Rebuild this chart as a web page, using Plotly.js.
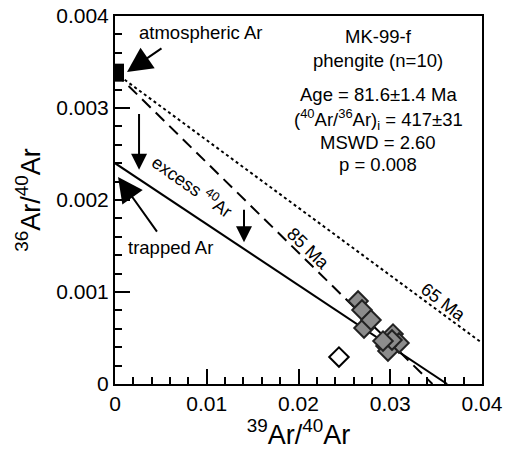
<!DOCTYPE html>
<html>
<head>
<meta charset="utf-8">
<script src="https://cdn.plot.ly/plotly-3.0.1.min.js"></script>
<style>html,body{margin:0;padding:0;background:#fff}#chart{width:505px;height:450px}</style>
</head>
<body>
<div id="chart"></div>
<script>
// Data
const dataX = [0.02649, 0.02692, 0.02714, 0.02790, 0.03030, 0.03095, 0.02954, 0.02975, 0.03019, 0.02921];
const dataY = [0.000902, 0.000804, 0.000609, 0.000696, 0.000543, 0.000446, 0.000413, 0.000359, 0.000478, 0.000467];
const excludedX = [0.02441];
const excludedY = [0.000293];
const atmX = [0];
const atmY = [0.003384];
// Reference lines
const isochronX = [0, 0.0362];
const isochronY = [0.0024, 0];
const line85X = [0, 0.0346];
const line85Y = [0.003384, 0];
const line65X = [0, 0.04];
const line65Y = [0.003384, 0.000446];
const xTicks = [0, 0.01, 0.02, 0.03, 0.04];
const xTickText = ['0', '0.01', '0.02', '0.03', '0.04'];
const yTicks = [0, 0.001, 0.002, 0.003, 0.004];
const yTickText = ['0', '0.001', '0.002', '0.003', '0.004'];

const FONT = 'Liberation Sans, Arial, sans-serif';

const traces = [
  {x: line65X, y: line65Y, mode: 'lines', line: {color: '#000', width: 2, dash: '3px,3px'}, hoverinfo: 'skip'},
  {x: line85X, y: line85Y, mode: 'lines', line: {color: '#000', width: 2, dash: '12px,7px'}, hoverinfo: 'skip'},
  {x: isochronX, y: isochronY, mode: 'lines', line: {color: '#000', width: 2}, hoverinfo: 'skip'},
  {x: atmX, y: atmY, mode: 'markers', marker: {symbol: 'square', size: 18, color: '#000'}, cliponaxis: true},
  {x: excludedX, y: excludedY, mode: 'markers', marker: {symbol: 'diamond', size: 15, color: '#fff', line: {color: '#000', width: 2}}},
  {x: dataX, y: dataY, mode: 'markers', marker: {symbol: 'diamond', size: 15, color: '#8c8c8c', line: {color: '#222', width: 2}}}
];

const arrowBase = {xref: 'x', yref: 'y', axref: 'x', ayref: 'y', showarrow: true, arrowhead: 2, arrowsize: 1.6, arrowwidth: 2, arrowcolor: '#000', text: ''};

function label(x, y, text, size, extra) {
  return Object.assign({xref: 'paper', yref: 'paper', x: x, y: y, xanchor: 'center', yanchor: 'middle', text: text, showarrow: false, font: {family: FONT, size: size, color: '#000'}}, extra || {});
}

const annotations = [
  Object.assign({}, arrowBase, {x: 0.00131, y: 0.00339, ax: 0.00523, ay: 0.00366, arrowsize: 2.5}),
  Object.assign({}, arrowBase, {x: 0.00033, y: 0.00225, ax: 0.00469, ay: 0.00164, arrowsize: 2.5}),
  Object.assign({}, arrowBase, {x: 0.00262, y: 0.00233, ax: 0.00262, ay: 0.00295}),
  Object.assign({}, arrowBase, {x: 0.01406, y: 0.00154, ax: 0.01406, ay: 0.00191}),
  label(0.060, 0.954, 'atmospheric Ar', 18.5, {xanchor: 'left'}),
  label(0.030, 0.372, 'trapped Ar', 18.5, {xanchor: 'left'}),
  label(0.2125, 0.538, 'excess <sup>40</sup>Ar', 18, {textangle: 35}),
  label(0.528, 0.368, '85 Ma', 18, {textangle: 44}),
  label(0.894, 0.223, '65 Ma', 18, {textangle: 37}),
  label(0.717, 0.943, 'MK-99-f', 18.5),
  label(0.717, 0.880, 'phengite (n=10)', 18.5),
  label(0.717, 0.786, 'Age = 81.6±1.4 Ma', 18.5),
  label(0.717, 0.719, '(<sup>40</sup>Ar/<sup>36</sup>Ar)<sub>i</sub> = 417±31', 18.5),
  label(0.717, 0.655, 'MSWD = 2.60', 18.5),
  label(0.717, 0.597, 'p = 0.008', 18.5)
];

const layout = {
  width: 505, height: 450,
  margin: {l: 115, r: 23, t: 16, b: 66},
  paper_bgcolor: '#fff', plot_bgcolor: '#fff',
  showlegend: false,
  font: {family: FONT, size: 21, color: '#000'},
  xaxis: {
    range: [0, 0.04], tickvals: xTicks, ticktext: xTickText,
    ticks: 'inside', ticklen: 15, tickwidth: 2, tickcolor: '#000',
    minor: {dtick: 0.002, ticks: 'inside', ticklen: 7, tickwidth: 2, tickcolor: '#000'},
    showline: true, linewidth: 2, linecolor: '#000', mirror: true,
    showgrid: false, zeroline: false,
    tickfont: {family: FONT, size: 21, color: '#000'},
    title: {text: '<sup>39</sup>Ar/<sup>40</sup>Ar', font: {family: FONT, size: 27, color: '#000'}, standoff: 2}
  },
  yaxis: {
    range: [0, 0.004], tickvals: yTicks, ticktext: yTickText,
    ticks: 'inside', ticklen: 15, tickwidth: 2, tickcolor: '#000',
    minor: {dtick: 0.0002, ticks: 'inside', ticklen: 7, tickwidth: 2, tickcolor: '#000'},
    showline: true, linewidth: 2, linecolor: '#000', mirror: true,
    showgrid: false, zeroline: false,
    tickfont: {family: FONT, size: 21, color: '#000'},
    title: {text: '<sup>36</sup>Ar/<sup>40</sup>Ar', font: {family: FONT, size: 27, color: '#000'}, standoff: 8}
  },
  annotations: annotations
};

Plotly.newPlot('chart', traces, layout, {displayModeBar: false, staticPlot: true});
</script>
</body>
</html>
